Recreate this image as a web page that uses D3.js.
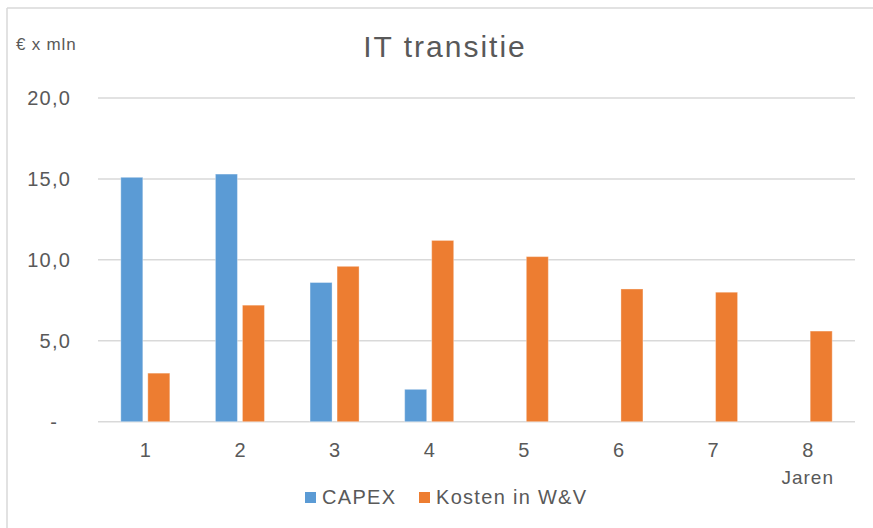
<!DOCTYPE html>
<html>
<head>
<meta charset="utf-8">
<script src="https://cdn.jsdelivr.net/npm/d3@7"></script>
<style>
  html, body { margin: 0; padding: 0; background: #fff; }
  svg { display: block; font-family: "Liberation Sans", Arial, sans-serif; }
</style>
</head>
<body>
<svg id="chart" width="873" height="528"></svg>
<script>
const categories = ["1", "2", "3", "4", "5", "6", "7", "8"];
const seriesNames = ["CAPEX", "Kosten in W&V"];
const capex = [15.1, 15.3, 8.6, 2.0, 0, 0, 0, 0];
const kosten = [3.0, 7.2, 9.6, 11.2, 10.2, 8.2, 8.0, 5.6];
const yTicks = [0, 5, 10, 15, 20];
const colors = ["#5B9BD5", "#ED7D31"];
const title = "IT transitie";
const yUnit = "€ x mln";
const xTitle = "Jaren";

const svg = d3.select("#chart");
const W = 873, H = 528;
const textColor = "#595959";

// outer chart border (top and left visible)
svg.append("line").attr("x1", 7).attr("x2", W).attr("y1", 8).attr("y2", 8)
  .attr("stroke", "#d9d9d9").attr("stroke-width", 1.5);
svg.append("line").attr("x1", 7).attr("x2", 7).attr("y1", 8).attr("y2", H)
  .attr("stroke", "#d9d9d9").attr("stroke-width", 1.5);

const plot = { left: 98, right: 855, top: 98, bottom: 421.7 };

const y = d3.scaleLinear().domain([0, 20]).range([plot.bottom, plot.top]);
const x0 = d3.scaleBand().domain(categories).range([plot.left, plot.right]).padding(0);
const x1 = d3.scaleBand().domain(seriesNames).range([0, x0.bandwidth()])
  .paddingInner(0.185).paddingOuter(0.844);

// gridlines
svg.append("g").selectAll("line").data(yTicks).join("line")
  .attr("x1", plot.left).attr("x2", plot.right)
  .attr("y1", d => y(d)).attr("y2", d => y(d))
  .attr("stroke", "#d9d9d9").attr("stroke-width", 1.5);

// y labels
const fmt = d => d === 0 ? "-" : d3.format(".1f")(d).replace(".", ",");
svg.append("g").selectAll("text").data(yTicks).join("text")
  .attr("x", d => d === 0 ? 58 : 71)
  .attr("y", d => y(d) + 7)
  .attr("text-anchor", "end")
  .attr("font-size", 20)
  .attr("letter-spacing", 1.2)
  .attr("fill", textColor)
  .text(fmt);

// bars
const data = categories.map((c, i) => ({ cat: c, values: [capex[i], kosten[i]] }));
const groups = svg.append("g").selectAll("g").data(data).join("g")
  .attr("transform", d => `translate(${x0(d.cat)},0)`);
groups.selectAll("rect")
  .data(d => d.values.map((v, j) => ({ key: seriesNames[j], v, j })).filter(e => e.v > 0))
  .join("rect")
  .attr("x", e => x1(e.key))
  .attr("width", x1.bandwidth())
  .attr("y", e => y(e.v))
  .attr("height", e => y(0) - y(e.v))
  .attr("fill", e => colors[e.j])
  .attr("stroke", "rgba(255,255,255,0.35)")
  .attr("stroke-width", 1);

// x labels
svg.append("g").selectAll("text").data(categories).join("text")
  .attr("x", d => x0(d) + x0.bandwidth() / 2)
  .attr("y", 457)
  .attr("text-anchor", "middle")
  .attr("font-size", 20)
  .attr("fill", textColor)
  .text(d => d);

// x axis title
svg.append("text")
  .attr("x", x0("8") + x0.bandwidth() / 2)
  .attr("y", 484)
  .attr("text-anchor", "middle")
  .attr("font-size", 19)
  .attr("letter-spacing", 1)
  .attr("fill", textColor)
  .text(xTitle);

// y unit label
svg.append("text")
  .attr("x", 16).attr("y", 50)
  .attr("font-size", 17)
  .attr("letter-spacing", 0.8)
  .attr("fill", textColor)
  .text(yUnit);

// title
svg.append("text")
  .attr("x", 445).attr("y", 57)
  .attr("text-anchor", "middle")
  .attr("font-size", 30)
  .attr("letter-spacing", 2)
  .attr("fill", textColor)
  .text(title);

// legend
const legendItems = [
  { name: seriesNames[0], color: colors[0], x: 305 },
  { name: seriesNames[1], color: colors[1], x: 419 }
];
const lg = svg.append("g").selectAll("g").data(legendItems).join("g")
  .attr("transform", d => `translate(${d.x},0)`);
lg.append("rect").attr("x", 0).attr("y", 492).attr("width", 11).attr("height", 11)
  .attr("fill", d => d.color);
lg.append("text").attr("x", 17).attr("y", 504)
  .attr("font-size", 20).attr("letter-spacing", 1.3)
  .attr("fill", textColor).text(d => d.name);
</script>
</body>
</html>
